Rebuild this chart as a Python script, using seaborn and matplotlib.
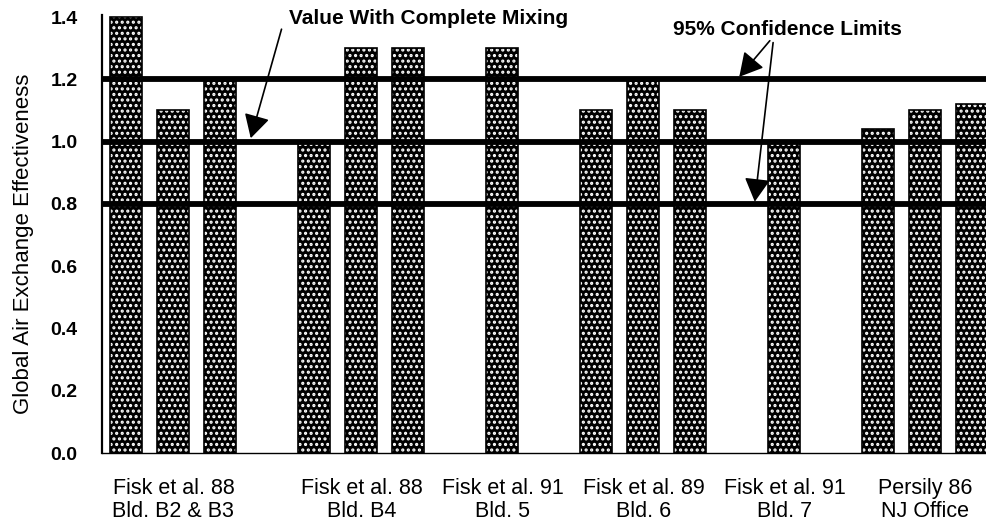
import matplotlib
matplotlib.use("Agg")
import matplotlib.pyplot as plt
import seaborn as sns
import pandas as pd

# ---------------- data ----------------
groups = ["Fisk et al. 88\nBld. B2 & B3", "Fisk et al. 88\nBld. B4", "Fisk et al. 91\nBld. 5",
          "Fisk et al. 89\nBld. 6", "Fisk et al. 91\nBld. 7", "Persily 86\nNJ Office"]
values_b2b3 = [1.40, 1.10, 1.20]
values_b4 = [1.00, 1.30, 1.30]
values_bld5 = [1.30]
values_bld6 = [1.10, 1.20, 1.10]
values_bld7 = [1.00]
values_nj = [1.04, 1.10, 1.12]
group_values = [values_b2b3, values_b4, values_bld5, values_bld6, values_bld7, values_nj]

complete_mixing = 1.0
confidence_limits = [0.8, 1.2]
yticks = [0.0, 0.2, 0.4, 0.6, 0.8, 1.0, 1.2, 1.4]
ytick_labels = ["0.0", "0.2", "0.4", "0.6", "0.8", "1.0", "1.2", "1.4"]
ylabel = "Global Air Exchange Effectiveness"
mix_label = "Value With Complete Mixing"
ci_label = "95% Confidence Limits"

# ---------------- table ----------------
rows, order, label_ids = [], [], []
for gi, vals in enumerate(group_values):
    ids = [f"g{gi}b{bi}" for bi in range(len(vals))]
    for bid, v in zip(ids, vals):
        rows.append({"bar": bid, "group": groups[gi], "value": v})
    order.extend(ids)
    label_ids.append(ids[len(ids) // 2])
    if gi < len(group_values) - 1:
        order.append(f"gap{gi}")
df = pd.DataFrame(rows)

# ---------------- style ----------------
sns.set_style("white")
plt.rcParams["font.family"] = ["Liberation Sans", "DejaVu Sans"]
plt.rcParams["hatch.linewidth"] = 1.5
for k in ["text.color", "axes.labelcolor", "xtick.color", "ytick.color", "axes.edgecolor"]:
    plt.rcParams[k] = "black"

fig = plt.figure(figsize=(9.86, 5.28), dpi=100)
ax = fig.add_axes([102 / 986, 75 / 528, 884 / 986, 437.5 / 528])

# hatched fill: black bars with white dots
sns.barplot(data=df, x="bar", y="value", order=order, color="black", width=0.68,
            saturation=1, errorbar=None, linewidth=0, edgecolor="white", ax=ax, zorder=2)
for p in ax.patches:
    p.set_hatch("...")
    p.set_edgecolor("white")
    p.set_linewidth(0)
# black outline
sns.barplot(data=df, x="bar", y="value", order=order, color="black", width=0.68,
            saturation=1, errorbar=None, fill=False, linewidth=1.2, ax=ax, zorder=3)

# reference lines
for yv in [complete_mixing] + confidence_limits:
    ax.axhline(yv, color="black", lw=4.2, zorder=4, solid_capstyle="butt")

ax.set_xlim(-0.52, 18.29)
ax.set_ylim(0, 1.405)
ax.set_yticks(yticks)
ax.set_yticklabels(ytick_labels, fontsize=14, fontweight="bold")
ax.set_xticks([order.index(i) for i in label_ids])
ax.set_xticklabels(groups, fontsize=15.5, linespacing=1.1)
ax.tick_params(axis="x", length=0, pad=18)
ax.tick_params(axis="y", direction="inout", length=8, width=1, pad=13.5, color="black")
ax.set_xlabel("")
ax.set_ylabel(ylabel, fontsize=16, va="center")
ax.yaxis.set_label_coords(-0.089, 0.478)

for s in ["top", "right"]:
    ax.spines[s].set_visible(False)
ax.spines["left"].set_linewidth(1.6)
ax.spines["bottom"].set_linewidth(1.0)

# annotations
ax.text(6.43, 1.394, mix_label, ha="center", va="center", fontsize=15,
        fontweight="bold", clip_on=False)
ax.text(14.07, 1.359, ci_label, ha="center", va="center", fontsize=15,
        fontweight="bold", clip_on=False)
arrow_kw = dict(arrowstyle="-|>,head_length=1.0,head_width=0.55", mutation_scale=14.4,
                color="black", lw=1.2, shrinkA=0, shrinkB=0)
ax.annotate("", xy=(2.645, 1.011), xytext=(3.30, 1.361), arrowprops=arrow_kw,
            annotation_clip=False, zorder=6)
ax.annotate("", xy=(13.04, 1.208), xytext=(13.69, 1.324), arrowprops=arrow_kw,
            annotation_clip=False, zorder=6)
ax.annotate("", xy=(13.37, 0.807), xytext=(13.76, 1.318), arrowprops=arrow_kw,
            annotation_clip=False, zorder=6)

fig.savefig("out.png", dpi=100)
